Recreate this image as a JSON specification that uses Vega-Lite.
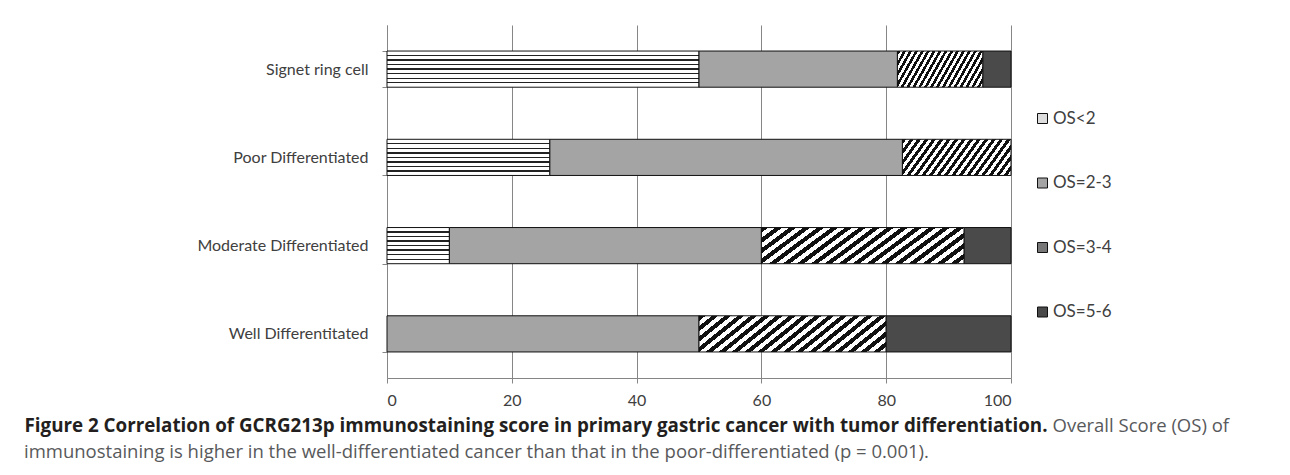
{
  "$schema": "https://vega.github.io/schema/vega-lite/v6.json",
  "width": 624,
  "height": 353,
  "autosize": "none",
  "padding": {"left": 387, "top": 25, "right": 279, "bottom": 97},
  "background": "white",
  "title": {
    "text": "immunostaining is higher in the well-differentiated cancer than that in the poor-differentiated (p = 0.001).",
    "orient": "bottom",
    "anchor": "start",
    "frame": "bounds",
    "offset": 8,
    "font": "Open Sans",
    "fontSize": 18.5,
    "fontWeight": "normal",
    "color": "#58595b"
  },
  "data": {
    "values": [
      {"Group": "Signet ring cell", "Score": "OS<2", "Percent": 50},
      {"Group": "Signet ring cell", "Score": "OS=2-3", "Percent": 31.8},
      {"Group": "Signet ring cell", "Score": "OS=3-4", "Percent": 13.7},
      {"Group": "Signet ring cell", "Score": "OS=5-6", "Percent": 4.5},
      {"Group": "Poor Differentiated", "Score": "OS<2", "Percent": 26.1},
      {"Group": "Poor Differentiated", "Score": "OS=2-3", "Percent": 56.5},
      {"Group": "Poor Differentiated", "Score": "OS=3-4", "Percent": 17.4},
      {"Group": "Moderate Differentiated", "Score": "OS<2", "Percent": 10},
      {"Group": "Moderate Differentiated", "Score": "OS=2-3", "Percent": 50},
      {"Group": "Moderate Differentiated", "Score": "OS=3-4", "Percent": 32.5},
      {"Group": "Moderate Differentiated", "Score": "OS=5-6", "Percent": 7.5},
      {"Group": "Well Differentitated", "Score": "OS=2-3", "Percent": 50},
      {"Group": "Well Differentitated", "Score": "OS=3-4", "Percent": 30},
      {"Group": "Well Differentitated", "Score": "OS=5-6", "Percent": 20}
    ]
  },
  "mark": {"type": "bar", "stroke": "#111111", "strokeWidth": 1},
  "encoding": {
    "y": {
      "field": "Group",
      "type": "nominal",
      "sort": ["Signet ring cell", "Poor Differentiated", "Moderate Differentiated", "Well Differentitated"],
      "scale": {"paddingInner": 0.59, "paddingOuter": 0.295},
      "axis": {
        "title": "Overall Score (OS) of",
        "titleAngle": 0,
        "titleX": 665,
        "titleY": 400,
        "titleAlign": "left",
        "titleBaseline": "middle",
        "titleFont": "Open Sans",
        "titleFontSize": 18.5,
        "titleFontWeight": "normal",
        "titleColor": "#58595b",
        "tickBand": "extent",
        "tickSize": 5,
        "tickColor": "#868686",
        "domainColor": "#868686",
        "labelFont": "Lato",
        "labelFontSize": 16,
        "labelColor": "#404040",
        "labelPadding": 14,
        "grid": false
      }
    },
    "x": {
      "field": "Percent",
      "type": "quantitative",
      "stack": "zero",
      "scale": {"domain": [0, 100], "nice": false},
      "axis": {
        "values": [0, 20, 40, 60, 80, 100],
        "title": "Figure 2 Correlation of GCRG213p immunostaining score in primary gastric cancer with tumor differentiation.",
        "titleX": -363,
        "titleY": 47,
        "titleAlign": "left",
        "titleBaseline": "middle",
        "titleFont": "Open Sans",
        "titleFontSize": 18.8,
        "titleFontWeight": "bold",
        "titleColor": "#231f20",
        "grid": true,
        "gridColor": "#868686",
        "gridOpacity": 1,
        "tickSize": 5,
        "tickColor": "#868686",
        "domainColor": "#868686",
        "labelFont": "Lato",
        "labelFontSize": 16,
        "labelColor": "#404040",
        "labelPadding": 9
      }
    },
    "fill": {
      "condition": [
        {
          "test": "datum['Score'] === 'OS<2'",
          "value": {
            "gradient": "linear",
            "x1": 0, "y1": 0, "x2": 0, "y2": 1,
            "stops": [
              {"offset": 0, "color": "white"},
              {"offset": 0.107, "color": "white"}, {"offset": 0.107, "color": "#222222"}, {"offset": 0.143, "color": "#222222"}, {"offset": 0.143, "color": "white"},
              {"offset": 0.232, "color": "white"}, {"offset": 0.232, "color": "#222222"}, {"offset": 0.268, "color": "#222222"}, {"offset": 0.268, "color": "white"},
              {"offset": 0.357, "color": "white"}, {"offset": 0.357, "color": "#222222"}, {"offset": 0.393, "color": "#222222"}, {"offset": 0.393, "color": "white"},
              {"offset": 0.482, "color": "white"}, {"offset": 0.482, "color": "#222222"}, {"offset": 0.518, "color": "#222222"}, {"offset": 0.518, "color": "white"},
              {"offset": 0.607, "color": "white"}, {"offset": 0.607, "color": "#222222"}, {"offset": 0.643, "color": "#222222"}, {"offset": 0.643, "color": "white"},
              {"offset": 0.732, "color": "white"}, {"offset": 0.732, "color": "#222222"}, {"offset": 0.768, "color": "#222222"}, {"offset": 0.768, "color": "white"},
              {"offset": 0.857, "color": "white"}, {"offset": 0.857, "color": "#222222"}, {"offset": 0.893, "color": "#222222"}, {"offset": 0.893, "color": "white"},
              {"offset": 1, "color": "white"}
            ]
          }
        },
        {
          "test": "datum['Score'] === 'OS=3-4'",
          "value": {
            "gradient": "linear",
            "x1": 0, "y1": 0, "x2": 1.172, "y2": 0.281,
            "stops": [
              {"offset": 0, "color": "#111111"}, {"offset": 0.0278, "color": "#111111"}, {"offset": 0.0278, "color": "white"}, {"offset": 0.0556, "color": "white"},
              {"offset": 0.0556, "color": "#111111"}, {"offset": 0.0833, "color": "#111111"}, {"offset": 0.0833, "color": "white"}, {"offset": 0.1111, "color": "white"},
              {"offset": 0.1111, "color": "#111111"}, {"offset": 0.1389, "color": "#111111"}, {"offset": 0.1389, "color": "white"}, {"offset": 0.1667, "color": "white"},
              {"offset": 0.1667, "color": "#111111"}, {"offset": 0.1944, "color": "#111111"}, {"offset": 0.1944, "color": "white"}, {"offset": 0.2222, "color": "white"},
              {"offset": 0.2222, "color": "#111111"}, {"offset": 0.25, "color": "#111111"}, {"offset": 0.25, "color": "white"}, {"offset": 0.2778, "color": "white"},
              {"offset": 0.2778, "color": "#111111"}, {"offset": 0.3056, "color": "#111111"}, {"offset": 0.3056, "color": "white"}, {"offset": 0.3333, "color": "white"},
              {"offset": 0.3333, "color": "#111111"}, {"offset": 0.3611, "color": "#111111"}, {"offset": 0.3611, "color": "white"}, {"offset": 0.3889, "color": "white"},
              {"offset": 0.3889, "color": "#111111"}, {"offset": 0.4167, "color": "#111111"}, {"offset": 0.4167, "color": "white"}, {"offset": 0.4444, "color": "white"},
              {"offset": 0.4444, "color": "#111111"}, {"offset": 0.4722, "color": "#111111"}, {"offset": 0.4722, "color": "white"}, {"offset": 0.5, "color": "white"},
              {"offset": 0.5, "color": "#111111"}, {"offset": 0.5278, "color": "#111111"}, {"offset": 0.5278, "color": "white"}, {"offset": 0.5556, "color": "white"},
              {"offset": 0.5556, "color": "#111111"}, {"offset": 0.5833, "color": "#111111"}, {"offset": 0.5833, "color": "white"}, {"offset": 0.6111, "color": "white"},
              {"offset": 0.6111, "color": "#111111"}, {"offset": 0.6389, "color": "#111111"}, {"offset": 0.6389, "color": "white"}, {"offset": 0.6667, "color": "white"},
              {"offset": 0.6667, "color": "#111111"}, {"offset": 0.6944, "color": "#111111"}, {"offset": 0.6944, "color": "white"}, {"offset": 0.7222, "color": "white"},
              {"offset": 0.7222, "color": "#111111"}, {"offset": 0.75, "color": "#111111"}, {"offset": 0.75, "color": "white"}, {"offset": 0.7778, "color": "white"},
              {"offset": 0.7778, "color": "#111111"}, {"offset": 0.8056, "color": "#111111"}, {"offset": 0.8056, "color": "white"}, {"offset": 0.8333, "color": "white"},
              {"offset": 0.8333, "color": "#111111"}, {"offset": 0.8611, "color": "#111111"}, {"offset": 0.8611, "color": "white"}, {"offset": 0.8889, "color": "white"},
              {"offset": 0.8889, "color": "#111111"}, {"offset": 0.9167, "color": "#111111"}, {"offset": 0.9167, "color": "white"}, {"offset": 0.9444, "color": "white"},
              {"offset": 0.9444, "color": "#111111"}, {"offset": 0.9722, "color": "#111111"}, {"offset": 0.9722, "color": "white"}, {"offset": 1, "color": "white"}
            ]
          }
        }
      ],
      "field": "Score",
      "type": "nominal",
      "scale": {
        "domain": ["OS<2", "OS=2-3", "OS=3-4", "OS=5-6"],
        "range": ["#dddddd", "#a4a4a4", "#777777", "#4a4a4a"]
      },
      "legend": {
        "title": null,
        "orient": "none",
        "legendX": 647,
        "legendY": 85,
        "symbolType": "square",
        "symbolSize": 100,
        "symbolStrokeColor": "#111111",
        "symbolStrokeWidth": 1,
        "symbolOpacity": 1,
        "labelFont": "Lato",
        "labelFontSize": 17,
        "labelColor": "#404040",
        "labelOffset": 2,
        "rowPadding": 46.5
      }
    },
    "order": {"field": "Score", "type": "nominal", "sort": "ascending"}
  },
  "config": {
    "view": {"stroke": null}
  }
}
